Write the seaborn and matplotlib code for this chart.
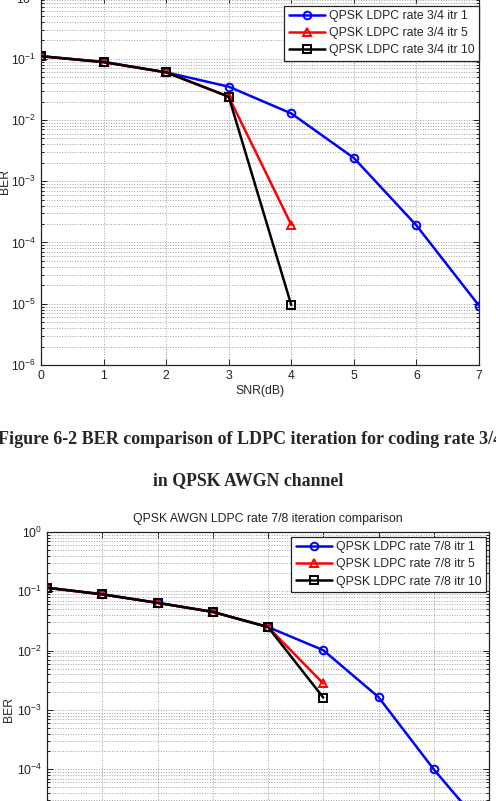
import matplotlib
matplotlib.use("Agg")
import matplotlib.pyplot as plt
import matplotlib.ticker as mticker
import numpy as np
import pandas as pd
import seaborn as sns

# ---- data ----
snr_34 = [0, 1, 2, 3, 4, 5, 6, 7]
ber_34_itr1 = [0.11, 0.089, 0.060, 0.035, 0.0128, 2.4e-3, 1.9e-4, 9.3e-6]
snr_34_short = [0, 1, 2, 3, 4]
ber_34_itr5 = [0.11, 0.088, 0.060, 0.024, 1.95e-4]
ber_34_itr10 = [0.11, 0.088, 0.060, 0.024, 9.5e-6]

snr_78 = [0, 1, 2, 3, 4, 5, 6, 7, 8]
ber_78_itr1 = [0.115, 0.089, 0.064, 0.045, 0.025, 0.0102, 1.65e-3, 1.0e-4, 8e-6]
snr_78_short = [0, 1, 2, 3, 4, 5]
ber_78_itr5 = [0.115, 0.089, 0.064, 0.045, 0.025, 2.8e-3]
ber_78_itr10 = [0.115, 0.089, 0.064, 0.045, 0.025, 1.62e-3]

labels_34 = ['QPSK LDPC rate 3/4 itr 1', 'QPSK LDPC rate 3/4 itr 5', 'QPSK LDPC rate 3/4 itr 10']
labels_78 = ['QPSK LDPC rate 7/8 itr 1', 'QPSK LDPC rate 7/8 itr 5', 'QPSK LDPC rate 7/8 itr 10']
title_78 = 'QPSK AWGN LDPC rate 7/8 iteration comparison'
caption_1 = 'Figure 6-2 BER comparison of LDPC iteration for coding rate 3/4'
caption_2 = 'in QPSK AWGN channel'

sns.set_style('ticks')
plt.rcParams['font.family'] = ['Liberation Sans', 'DejaVu Sans']
plt.rcParams['mathtext.fontset'] = 'custom'
plt.rcParams['mathtext.rm'] = 'Liberation Sans'
plt.rcParams['mathtext.it'] = 'Liberation Sans:italic'

FS = 8.8
W, H = 496, 801
fig = plt.figure(figsize=(W / 100, H / 100), dpi=100)


def px_axes(left, top, right, bottom):
    # pixel box -> figure fraction
    return fig.add_axes([left / W, 1 - bottom / H, (right - left) / W, (bottom - top) / H])


def draw_panel(ax, series, xmax, labels, legend_anchor):
    styles = [('blue', 'o'), ('red', '^'), ('black', 's')]
    for (x, y), lab, (c, m) in zip(series, labels, styles):
        df = pd.DataFrame({'SNR': x, 'BER': y})
        sns.lineplot(data=df, x='SNR', y='BER', ax=ax, color=c, marker=m,
                     markersize=5.5, markerfacecolor='none', markeredgecolor=c,
                     markeredgewidth=1.4, linewidth=1.8, label=lab)
    ax.set_yscale('log')
    ax.set_ylim(1e-6, 1)
    ax.set_xlim(0, xmax)
    ax.set_xticks(range(0, xmax + 1))
    ax.yaxis.set_major_locator(mticker.LogLocator(base=10, numticks=10))
    ax.yaxis.set_minor_locator(mticker.LogLocator(base=10, subs=np.arange(2, 10), numticks=20))
    ax.yaxis.set_minor_formatter(mticker.NullFormatter())
    ax.grid(which='major', axis='both', color='#a0a0a0', linestyle=':', linewidth=0.7)
    ax.grid(which='minor', axis='y', color='#a0a0a0', linestyle=':', linewidth=0.7)
    ax.tick_params(which='both', direction='in', top=True, right=True, labelsize=FS,
                   colors='#222222', width=0.7)
    ax.tick_params(which='major', length=4)
    ax.tick_params(which='minor', length=2.5)
    for s in ax.spines.values():
        s.set_color('#222222')
        s.set_linewidth(0.9)
    ax.set_ylabel('BER', fontsize=FS)
    ax.set_xlabel('SNR(dB)', fontsize=FS)
    leg = ax.legend(loc='upper right', bbox_to_anchor=legend_anchor, borderaxespad=0,
                    fontsize=FS, frameon=True, fancybox=False, framealpha=1,
                    edgecolor='#222222', handlelength=3.0, handletextpad=0.3,
                    labelspacing=0.42, borderpad=0.35)
    leg.get_frame().set_linewidth(0.9)


# top panel (rate 3/4), its top edge is cut by the page
ax1 = px_axes(41, -2.5, 479, 365)
draw_panel(ax1, [(snr_34, ber_34_itr1), (snr_34_short, ber_34_itr5), (snr_34_short, ber_34_itr10)],
           7, labels_34, (1.0, 0.977))
ax1.yaxis.set_label_coords(-30 / 438, 0.5)
ax1.xaxis.set_label_coords(0.5, -26 / 367.5)
ax1.xaxis.label.set_va('center')

# bottom panel (rate 7/8), its bottom is cut by the page
ax2 = px_axes(47, 532, 489, 888)
draw_panel(ax2, [(snr_78, ber_78_itr1), (snr_78_short, ber_78_itr5), (snr_78_short, ber_78_itr10)],
           8, labels_78, (0.993, 0.986))
ax2.yaxis.set_label_coords(-32 / 442, 0.5)
fig.text(268 / W, 1 - 519 / H, title_78, ha='center', va='center', fontsize=FS, color='#222222')

# caption between the panels
fig.text(250 / W, 1 - 439 / H, caption_1, ha='center', va='center', fontsize=13.0,
         fontweight='bold', family='Liberation Serif')
fig.text(248 / W, 1 - 481 / H, caption_2, ha='center', va='center', fontsize=12.8,
         fontweight='bold', family='Liberation Serif')

fig.savefig('out.png', dpi=100)
